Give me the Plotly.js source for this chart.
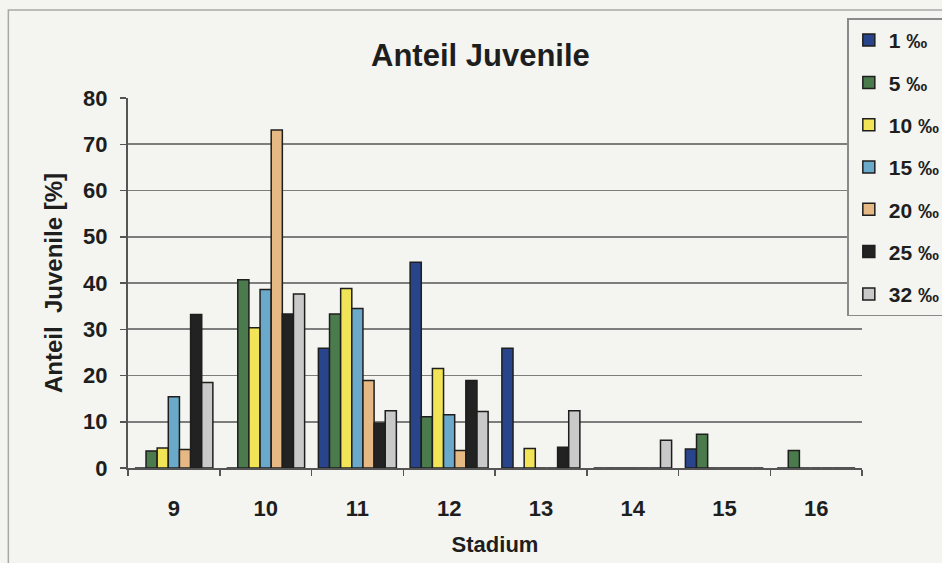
<!DOCTYPE html>
<html>
<head>
<meta charset="utf-8">
<script src="https://cdn.plot.ly/plotly-3.0.1.min.js"></script>
<style>
  html, body { margin: 0; padding: 0; background: #f4f5f1; }
  #chart { width: 942px; height: 563px; }
</style>
</head>
<body>
<div id="chart"></div>
<script>
// Stadium categories on the x axis
const stages = ['9', '10', '11', '12', '13', '14', '15', '16'];

// Share of juveniles [%] per salinity series
const s1  = [0,    0,    25.9, 44.5, 25.9, 0,   4.1, 0];
const s5  = [3.7,  40.7, 33.3, 11.1, 0,    0,   7.3, 3.8];
const s10 = [4.3,  30.3, 38.8, 21.5, 4.2,  0,   0,   0];
const s15 = [15.4, 38.6, 34.5, 11.5, 0,    0,   0,   0];
const s20 = [4.0,  73.1, 18.9, 3.8,  0,    0,   0,   0];
const s25 = [33.2, 33.3, 9.7,  18.9, 4.5,  0,   0,   0];
const s32 = [18.5, 37.6, 12.4, 12.2, 12.4, 6.0, 0,   0];

const seriesNames = ['1 ‰', '5 ‰', '10 ‰', '15 ‰', '20 ‰', '25 ‰', '32 ‰'];
const seriesValues = [s1, s5, s10, s15, s20, s25, s32];
const seriesColors = ['#28458c', '#4b7a4c', '#f1e457', '#6aa9c9', '#e6b883', '#222222', '#c9c9c9'];

const FONT = 'Liberation Sans, Arial, sans-serif';
const INK = '#1e1e1e';

const traces = seriesNames.map((name, i) => ({
  type: 'bar',
  name: name,
  x: stages,
  y: seriesValues[i],
  legendgroup: 'g' + i,
  marker: { color: seriesColors[i], line: { color: INK, width: 1.5 } },
  hoverinfo: 'x+y+name'
}));

const layout = {
  width: 942,
  height: 563,
  margin: { l: 128, r: 80, t: 98, b: 95, autoexpand: false },
  paper_bgcolor: '#f4f5f1',
  plot_bgcolor: '#f4f5f1',
  font: { family: FONT, color: INK },
  barmode: 'group',
  bargap: 0.15,
  bargroupgap: 0,
  title: {
    text: 'Anteil Juvenile',
    font: { family: FONT, size: 31, weight: 'bold', color: INK },
    x: 0.51, xanchor: 'center',
    y: 0.902, yanchor: 'middle'
  },
  xaxis: {
    type: 'category',
    title: { text: 'Stadium', font: { family: FONT, size: 22, weight: 'bold' }, standoff: 16 },
    tickfont: { family: FONT, size: 22, weight: 'bold' },
    ticklabelstandoff: 20,
    showline: true, linecolor: '#555555', linewidth: 2,
    ticks: 'outside', tickson: 'boundaries', ticklen: 6, tickcolor: '#555555', tickwidth: 1.5,
    showgrid: false,
    zeroline: false
  },
  yaxis: {
    range: [0, 80],
    dtick: 10,
    title: { text: 'Anteil  Juvenile [%]', font: { family: FONT, size: 24, weight: 'bold' }, standoff: 14 },
    tickfont: { family: FONT, size: 22, weight: 'bold' },
    ticklabelstandoff: 8,
    showline: true, linecolor: '#555555', linewidth: 2,
    ticks: 'outside', ticklen: 6, tickcolor: '#555555', tickwidth: 1.5,
    showgrid: true, gridcolor: '#7d7d7d', gridwidth: 1.6,
    zeroline: false
  },
  legend: {
    x: 0.98, xanchor: 'left',
    y: 1.215, yanchor: 'top',
    maxheight: 420,
    bgcolor: '#f4f5f1',
    bordercolor: '#8a8a8a', borderwidth: 1.5,
    font: { family: FONT, size: 21, weight: 'bold', color: INK },
    traceorder: 'grouped',
    tracegroupgap: 12,
    itemwidth: 30
  },
  shapes: [
    {
      type: 'rect', xref: 'paper', yref: 'paper',
      x0: -0.163, x1: 1.2, y0: -0.3, y1: 1.238,
      line: { color: '#a8a8a8', width: 1.5 }, layer: 'below'
    }
  ]
};

Plotly.newPlot('chart', traces, layout, { displayModeBar: false, staticPlot: true });
</script>
</body>
</html>
